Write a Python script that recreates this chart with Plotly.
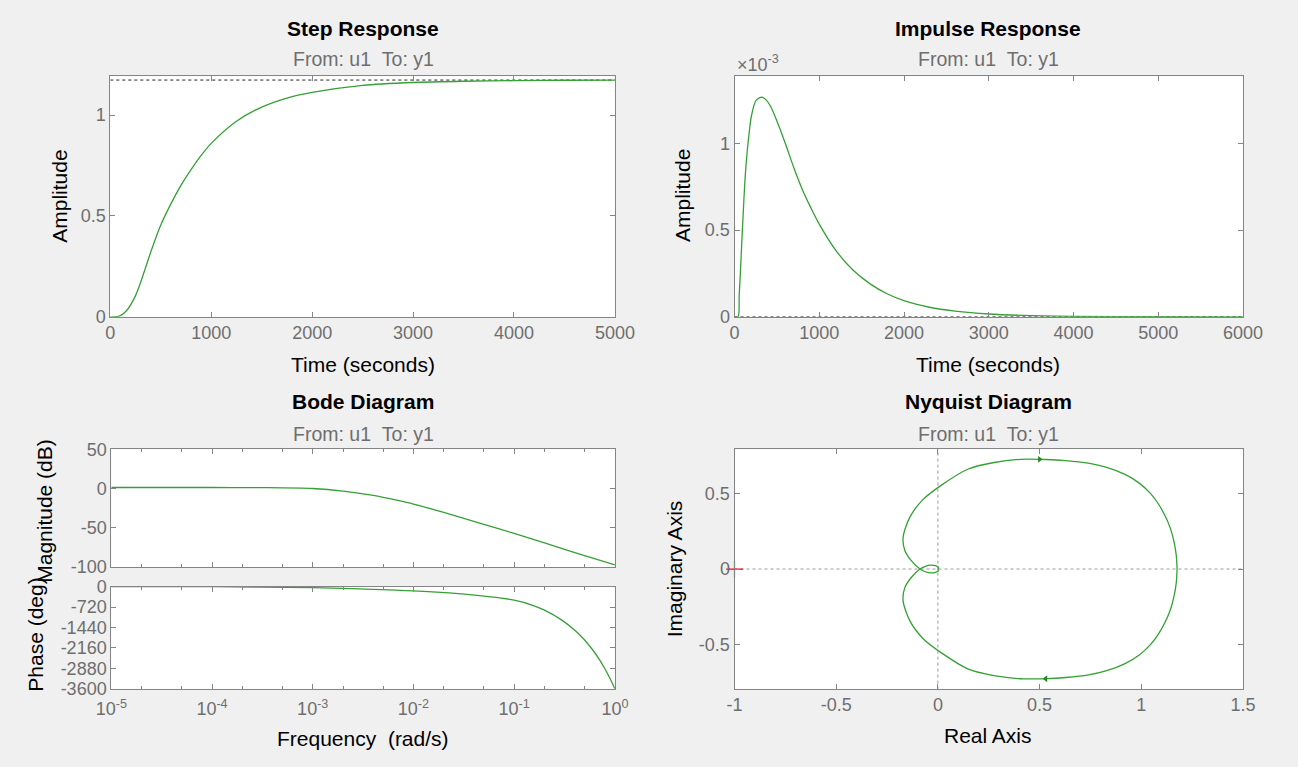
import plotly.graph_objects as go

# ---- data ----
step_t = [0, 40, 80, 120, 160, 200, 250, 300, 350, 400, 500, 600, 700, 800, 900,
          1000, 1250, 1500, 1750, 2000, 2500, 3000, 3500, 4000, 4500, 5000]
step_y = [0, 0, 0.002, 0.012, 0.03, 0.058, 0.105, 0.17, 0.245, 0.32, 0.455, 0.56, 0.652, 0.73, 0.8,
          0.86, 0.97, 1.04, 1.085, 1.113, 1.148, 1.162, 1.168, 1.171, 1.173, 1.174]
step_final = 1.174

imp_t = [0, 42, 55, 70, 85, 100, 125, 150, 175, 200, 250, 300, 330, 375, 425, 500, 600, 700,
         800, 900, 1000, 1200, 1400, 1600, 1800, 2000, 2300, 2600, 3000, 3500, 4000, 5000, 6000]
imp_y = [0, 0, 0.12, 0.26, 0.42, 0.57, 0.8, 0.955, 1.07, 1.16, 1.245, 1.265, 1.266, 1.25, 1.215, 1.13, 1.0, 0.86,
         0.735, 0.63, 0.535, 0.38, 0.268, 0.19, 0.133, 0.093, 0.055, 0.033, 0.016, 0.0065, 0.0025, 0.0004, 0]  # x 1e-3

mag_w = [1e-5, 1e-4, 3e-4, 1e-3, 2e-3, 4e-3, 7e-3, 1e-2, 2e-2, 5e-2, 1e-1, 2e-1, 5e-1, 1]
mag_db = [1.3, 1.3, 1.1, 0, -3.2, -8.8, -15.2, -19.8, -30.5, -45.5, -57.2, -69.3, -85.3, -97.3]

phase_w = [1e-5, 1e-4, 1e-3, 3e-3, 1e-2, 3e-2, 1e-1, 0.15, 0.2, 0.3, 0.4, 0.5, 0.6, 0.7, 0.8, 0.9, 1.0]
phase_deg = [0, -5, -40, -85, -150, -260, -480, -650, -830, -1190, -1540, -1880, -2225, -2565, -2910, -3255, -3600]

# nyquist, positive frequencies (the negative ones are the mirror image)
nyq_re = [1.176, 1.172, 1.161, 1.143, 1.118, 1.085, 1.046, 0.99, 0.92, 0.83, 0.74, 0.628, 0.532, 0.404,
          0.276, 0.149, 0.021, -0.075, -0.139, -0.171, -0.163, -0.131, -0.088, -0.062, -0.035, -0.012, 0.003, 0.0]
nyq_im = [0, -0.09, -0.18, -0.27, -0.35, -0.43, -0.50, -0.57, -0.628, -0.675, -0.703, -0.72, -0.727, -0.728,
          -0.707, -0.664, -0.56, -0.459, -0.341, -0.211, -0.125, -0.056, 0.0, 0.018, 0.026, 0.022, 0.01, 0.0]

freq_ticks = [1e-5, 1e-4, 1e-3, 1e-2, 1e-1, 1]
freq_text = ['10<sup>-5</sup>', '10<sup>-4</sup>', '10<sup>-3</sup>', '10<sup>-2</sup>', '10<sup>-1</sup>', '10<sup>0</sup>']
phase_ticks = [0, -720, -1440, -2160, -2880, -3600]
phase_text = ['0', '-720', '-1440', '-2160', '-2880', '-3600']
mag_ticks = [50, 0, -50, -100]
mag_text = ['50', '0', '-50', '-100']
re_ticks = [-1, -0.5, 0, 0.5, 1, 1.5]
re_text = ['-1', '-0.5', '0', '0.5', '1', '1.5']
im_ticks = [-0.5, 0, 0.5]
im_text = ['-0.5', '0', '0.5']

W, H = 1298, 767
FONT = 'Liberation Sans, Arial, Helvetica, sans-serif'
GREEN = '#35a035'
AXC = '#858585'
TXT = '#6e6e6e'
TICK_SIZE = 18
LABEL_SIZE = 21

def px_x(a, b):
    return [a / W, b / W]

def px_y(top, bottom):
    return [1 - bottom / H, 1 - top / H]

def ax(**kw):
    base = dict(showline=True, linecolor=AXC, linewidth=1, mirror='ticks', ticks='inside',
                ticklen=5, tickcolor=AXC, showgrid=False, zeroline=False,
                tickfont=dict(family=FONT, size=TICK_SIZE, color=TXT))
    base.update(kw)
    return base

fig = go.Figure()
line = dict(color=GREEN, width=1.3, shape='spline', smoothing=0.8)

fig.add_trace(go.Scatter(x=[0, 5000], y=[step_final, step_final], mode='lines',
                         line=dict(color='#222222', width=1, dash='dot'), xaxis='x', yaxis='y'))
fig.add_trace(go.Scatter(x=step_t, y=step_y, mode='lines', line=line, xaxis='x', yaxis='y'))

fig.add_trace(go.Scatter(x=[0, 6000], y=[0, 0], mode='lines',
                         line=dict(color='#222222', width=1, dash='dot'), xaxis='x2', yaxis='y2'))
fig.add_trace(go.Scatter(x=imp_t, y=imp_y, mode='lines', line=line, xaxis='x2', yaxis='y2'))

fig.add_trace(go.Scatter(x=mag_w, y=mag_db, mode='lines', line=line, xaxis='x3', yaxis='y3'))
fig.add_trace(go.Scatter(x=phase_w, y=phase_deg, mode='lines', line=line, xaxis='x4', yaxis='y4'))

# nyquist
fig.add_trace(go.Scatter(x=[-1, 1.5], y=[0, 0], mode='lines',
                         line=dict(color='#999999', width=1, dash='dot'), xaxis='x5', yaxis='y5'))
fig.add_trace(go.Scatter(x=[0, 0], y=[-0.8, 0.8], mode='lines',
                         line=dict(color='#999999', width=1, dash='dot'), xaxis='x5', yaxis='y5'))
fig.add_trace(go.Scatter(x=nyq_re, y=nyq_im, mode='lines', line=line, xaxis='x5', yaxis='y5'))
fig.add_trace(go.Scatter(x=nyq_re, y=[-v for v in nyq_im], mode='lines', line=line, xaxis='x5', yaxis='y5'))
fig.add_trace(go.Scatter(x=[0.5, 0.53], y=[0.728, -0.728], mode='markers',
                         marker=dict(symbol=['triangle-right', 'triangle-left'], size=6, color='#1f8a1f'),
                         xaxis='x5', yaxis='y5'))
fig.add_trace(go.Scatter(x=[-1], y=[0], mode='markers',
                         marker=dict(symbol='cross-thin', size=12, line=dict(color='red', width=1.2)),
                         xaxis='x5', yaxis='y5', cliponaxis=False))

left_x = px_x(97, 616)
right_x = px_x(739, 1262)
top_y = px_y(68, 315)

fig.update_layout(
    width=W, height=H, autosize=False, showlegend=False,
    margin=dict(l=0, r=0, t=0, b=0),
    paper_bgcolor='#f0f0f0', plot_bgcolor='white',
    font=dict(family=FONT),
    xaxis=ax(domain=left_x, range=[0, 5000], tickvals=[0, 1000, 2000, 3000, 4000, 5000], anchor='y'),
    yaxis=ax(domain=top_y, range=[0, 1.193], tickvals=[0, 0.5, 1], anchor='x'),
    xaxis2=ax(domain=right_x, range=[0, 6000], tickvals=[0, 1000, 2000, 3000, 4000, 5000, 6000], anchor='y2'),
    yaxis2=ax(domain=top_y, range=[0, 1.388], tickvals=[0, 0.5, 1], anchor='x2'),
    xaxis3=ax(domain=px_x(98, 616), type='log', range=[-5, 0], tickvals=freq_ticks,
              showticklabels=False, anchor='y3', matches='x4',
              minor=dict(ticks='inside', ticklen=3, tickcolor=AXC)),
    yaxis3=ax(domain=px_y(451, 572), range=[-100, 50], tickvals=mag_ticks, ticktext=mag_text, anchor='x3'),
    xaxis4=ax(domain=px_x(98, 616), type='log', range=[-5, 0], tickvals=freq_ticks, ticktext=freq_text,
              anchor='y4', ticklabelstandoff=4, minor=dict(ticks='inside', ticklen=3, tickcolor=AXC)),
    yaxis4=ax(domain=px_y(592, 697), range=[-3600, 0], tickvals=phase_ticks, ticktext=phase_text, anchor='x4'),
    xaxis5=ax(domain=right_x, range=[-1, 1.5], tickvals=re_ticks, ticktext=re_text, anchor='y5'),
    yaxis5=ax(domain=px_y(451, 697), range=[-0.795, 0.795], tickvals=im_ticks, ticktext=im_text, anchor='x5'),
)

def note(text, x, y, size=16, color='black', bold=False, angle=0, xanchor='center'):
    if bold:
        text = '<b>' + text + '</b>'
    fig.add_annotation(text=text, x=x / W, y=1 - y / H, xref='paper', yref='paper',
                       showarrow=False, textangle=angle, xanchor=xanchor, yanchor='middle',
                       font=dict(family=FONT, size=size, color=color))

sub = 'From: u1\u00a0\u00a0To: y1'
note('Step Response', 357, 19, size=21, bold=True)
note(sub, 357, 50, size=19.5, color=TXT)
note('Impulse Response', 1000, 19, size=21, bold=True)
note(sub, 1000, 50, size=19.5, color=TXT)
note('Bode Diagram', 357, 402, size=21, bold=True)
note(sub, 357, 435, size=19.5, color=TXT)
note('Nyquist Diagram', 1000, 402, size=21, bold=True)
note(sub, 1000, 435, size=19.5, color=TXT)

note('Time (seconds)', 357, 364, size=LABEL_SIZE)
note('Time (seconds)', 1000, 364, size=LABEL_SIZE)
note('Frequency \u00a0(rad/s)', 357, 748, size=LABEL_SIZE)
note('Real Axis', 1000, 745, size=LABEL_SIZE)
note('Amplitude', 44, 191, size=LABEL_SIZE, angle=-90)
note('Amplitude', 685, 191, size=LABEL_SIZE, angle=-90)
note('Magnitude (dB)', 29, 514, size=LABEL_SIZE, angle=-90)
note('Phase (deg)', 20, 641, size=LABEL_SIZE, angle=-90)
note('Imaginary Axis', 677, 574, size=LABEL_SIZE, angle=-90)
note('\u00d710<sup>-3</sup>', 740, 55, size=18, color=TXT, xanchor='left')

fig.write_html("out.html", config={'displayModeBar': False},
               post_script="document.body.style.margin='0';document.body.style.overflow='hidden';")
